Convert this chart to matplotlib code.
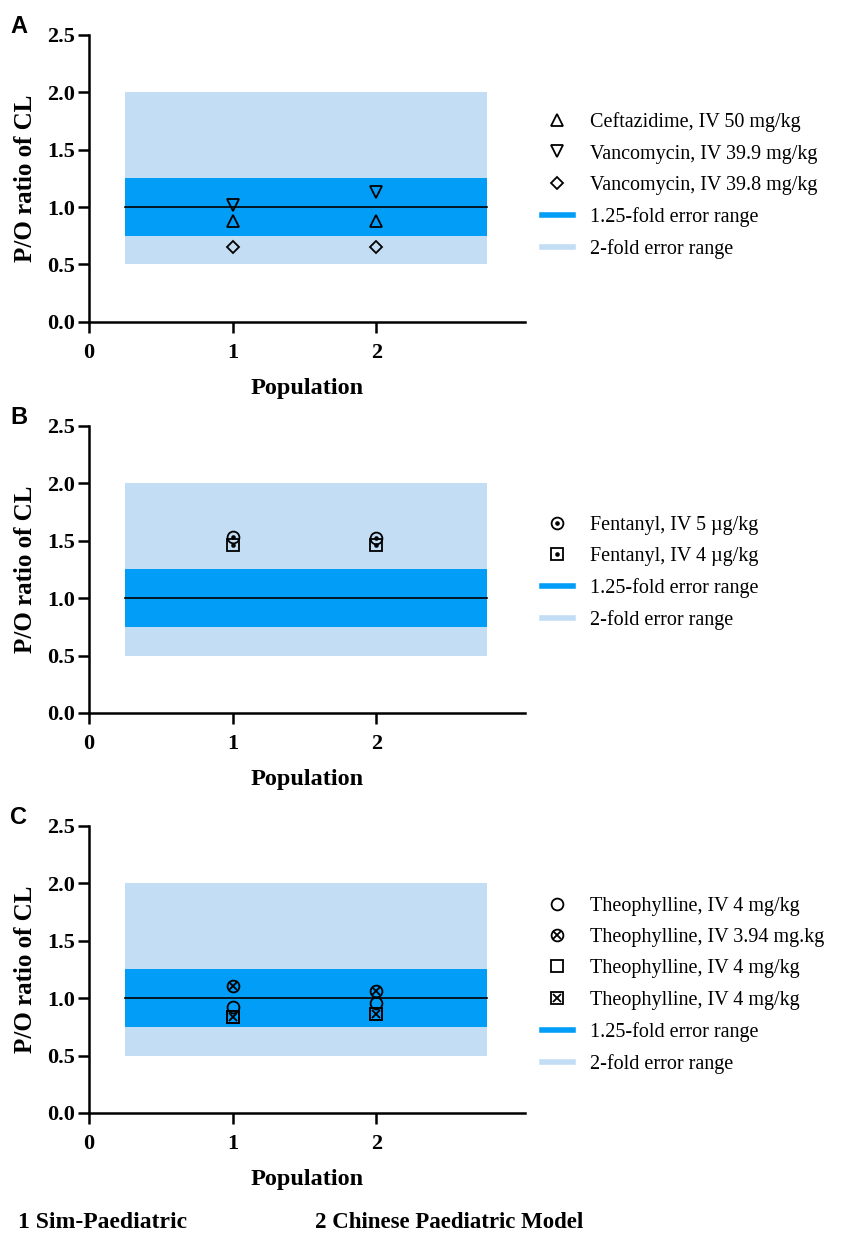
import matplotlib
matplotlib.use('Agg')
import matplotlib.pyplot as plt
from matplotlib.lines import Line2D
from matplotlib.legend_handler import HandlerTuple

# 1 = Sim-Paediatric, 2 = Chinese Paediatric Model
populations = [1, 2]

# パネルA
a_labels = ['Ceftazidime, IV 50 mg/kg', 'Vancomycin, IV 39.9 mg/kg', 'Vancomycin, IV 39.8 mg/kg']
a_values = [[0.88, 0.88], [1.02, 1.13], [0.65, 0.65]]
a_markers = [('^',), ('v',), ('D',)]

# パネルB
b_labels = ['Fentanyl, IV 5 \u00b5g/kg', 'Fentanyl, IV 4 \u00b5g/kg']
b_values = [[1.53, 1.52], [1.46, 1.46]]
b_markers = [('o', '.'), ('s', '.')]

# パネルC
c_labels = ['Theophylline, IV 4 mg/kg', 'Theophylline, IV 3.94 mg.kg',
            'Theophylline, IV 4 mg/kg', 'Theophylline, IV 4 mg/kg']
c_values = [[0.92, 0.96], [1.11, 1.06], [0.84, 0.86], [0.84, 0.86]]
c_markers = [('o',), ('o', 'x'), ('s',), ('s', 'x')]

DARK = '#019DF6'
LIGHT = '#C2DDF4'
SERIF = 'Liberation Serif'

sizes = {'^': 9, 'v': 9, 'D': 6.5, 'o': 8.5, 's': 8.5, '.': 4, 'x': 6}


def draw_panel(fig, rect, letter, labels, values, markers, leg_y):
    ax = fig.add_axes(rect)
    # 誤差範囲の帯
    ax.fill_between([0.25, 2.77], 0.5, 2.0, color=LIGHT, lw=0, zorder=1)
    ax.fill_between([0.25, 2.77], 0.75, 1.25, color=DARK, lw=0, zorder=2)
    ax.plot([0.25, 2.77], [1, 1], color='black', lw=1.2, zorder=3)

    handles = []
    for lab, vals, mk in zip(labels, values, markers):
        parts = []
        for m in mk:
            filled = m in ('.', 'x')
            ln, = ax.plot(populations, vals, linestyle='none', marker=m,
                          ms=sizes[m], mfc='black' if filled else 'none',
                          mec='black', mew=1.3, zorder=4)
            parts.append(ln)
        handles.append(tuple(parts))

    handles.append(Line2D([], [], color=DARK, lw=4))
    handles.append(Line2D([], [], color=LIGHT, lw=4))
    leg_labels = list(labels) + ['1.25-fold error range', '2-fold error range']
    ax.legend(handles, leg_labels, loc='center left', bbox_to_anchor=(1.041, leg_y),
              frameon=False, prop={'family': SERIF, 'size': 14.5},
              handlelength=1.5, handletextpad=0.85, labelspacing=0.6,
              borderaxespad=0, borderpad=0,
              handler_map={tuple: HandlerTuple(ndivide=1)})

    ax.set_xlim(0, 3.03)
    ax.set_ylim(0, 2.5)
    ax.set_xticks([0, 1, 2])
    ax.set_yticks([0, 0.5, 1.0, 1.5, 2.0, 2.5])
    ax.set_yticklabels(['0.0', '0.5', '1.0', '1.5', '2.0', '2.5'])
    for s in ['top', 'right']:
        ax.spines[s].set_visible(False)
    for s in ['left', 'bottom']:
        ax.spines[s].set_linewidth(1.8)
    ax.tick_params(direction='out', length=8, width=1.8)
    ax.tick_params(axis='x', pad=7)
    ax.tick_params(axis='y', pad=2)
    for t in ax.get_xticklabels() + ax.get_yticklabels():
        t.set_fontfamily(SERIF)
        t.set_fontweight('bold')
        t.set_fontsize(16)
    ax.set_xlabel('Population', fontfamily=SERIF, fontweight='bold', fontsize=17.5, labelpad=11)
    ax.set_ylabel('P/O ratio of CL', fontfamily=SERIF, fontweight='bold', fontsize=18, labelpad=7)
    fig.text(0.012, rect[1] + rect[3] + 0.007, letter, fontfamily='Liberation Sans',
             fontweight='bold', fontsize=17, va='center')
    return ax


def main():
    fig = plt.figure(figsize=(8.46, 12.38), dpi=100)
    w = 0.515
    h = 0.2318
    draw_panel(fig, [0.105, 0.740, w, h], 'A', a_labels, a_values, a_markers, 0.475)
    draw_panel(fig, [0.105, 0.4241, w, h], 'B', b_labels, b_values, b_markers, 0.487)
    draw_panel(fig, [0.105, 0.101, w, h], 'C', c_labels, c_values, c_markers, 0.445)

    fig.text(0.021, 0.0125, '1 Sim-Paediatric', fontfamily=SERIF, fontweight='bold',
             fontsize=17, va='center')
    fig.text(0.372, 0.0125, '2 Chinese Paediatric Model', fontfamily=SERIF, fontweight='bold',
             fontsize=16.5, va='center')
    plt.savefig('out.png', dpi=100)


if __name__ == '__main__':
    main()
